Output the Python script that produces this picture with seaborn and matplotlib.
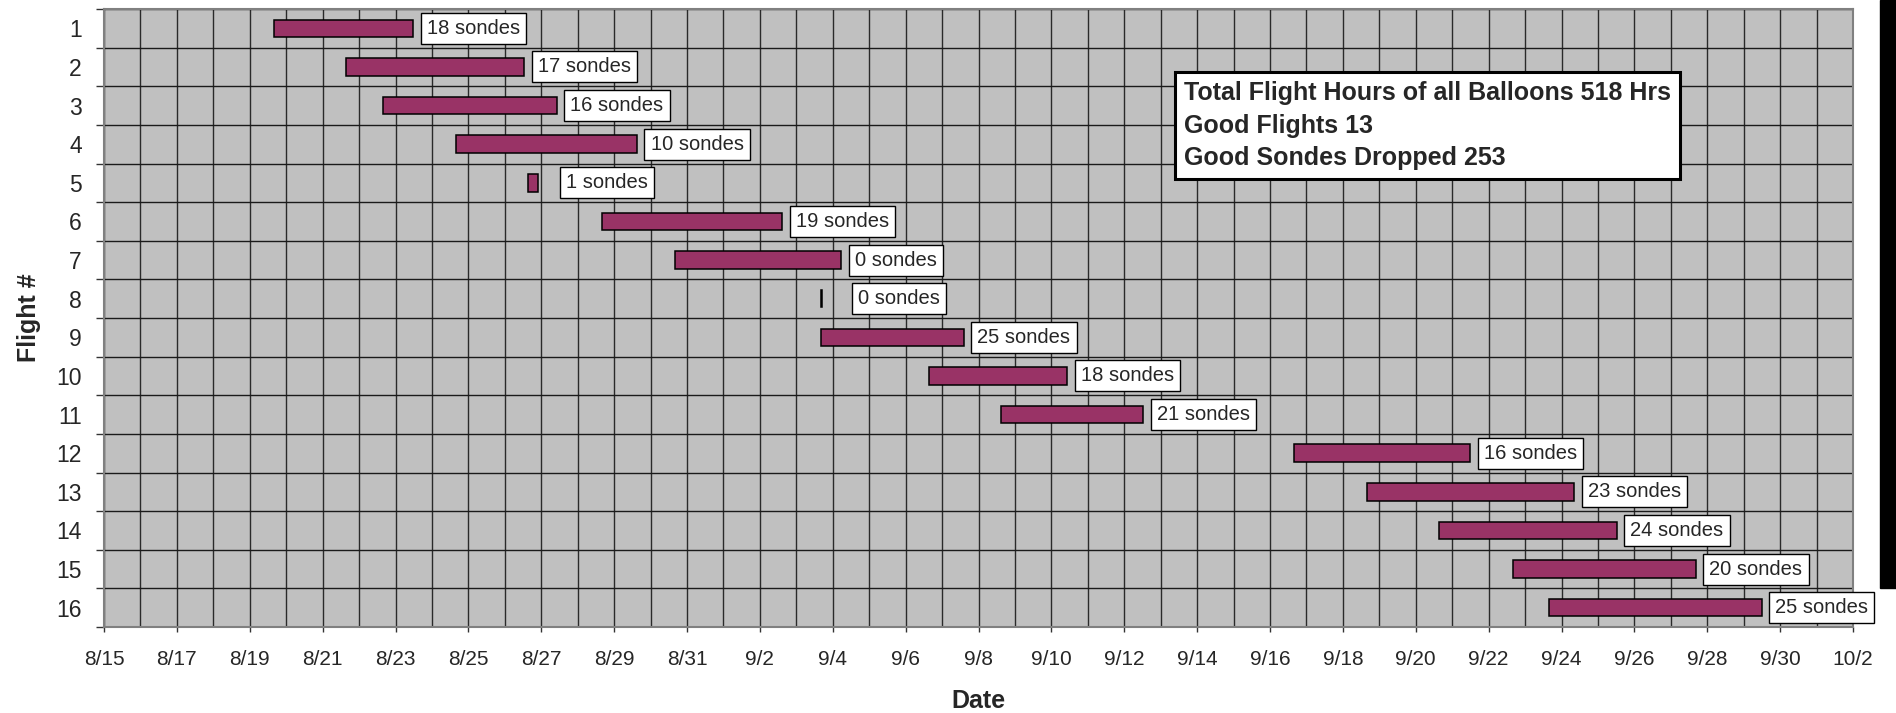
import numpy as np
import pandas as pd
import matplotlib
matplotlib.use("Agg")
import matplotlib.pyplot as plt
import matplotlib.dates as mdates
from matplotlib.ticker import FixedLocator, FixedFormatter, NullFormatter
from matplotlib.patches import Rectangle
import seaborn as sns

# Flight data (launch / end times)
flights = [str(i) for i in range(1, 17)]
launch = ["2001-08-19 15:50", "2001-08-21 15:35", "2001-08-22 16:05", "2001-08-24 15:50",
          "2001-08-26 15:20", "2001-08-28 16:20", "2001-08-30 15:50", "2001-09-03 16:05",
          "2001-09-03 16:35", "2001-09-06 15:20", "2001-09-08 14:50", "2001-09-16 15:50",
          "2001-09-18 15:35", "2001-09-20 15:20", "2001-09-22 16:05", "2001-09-23 15:50"]
landing = ["2001-08-23 11:45", "2001-08-26 12:45", "2001-08-27 10:05", "2001-08-29 14:50",
           "2001-08-26 21:35", "2001-09-02 14:25", "2001-09-04 05:15", "2001-09-03 17:00",
           "2001-09-07 14:10", "2001-09-10 10:35", "2001-09-12 12:15", "2001-09-21 11:45",
           "2001-09-24 08:25", "2001-09-25 12:15", "2001-09-27 16:20", "2001-09-29 11:45"]
sondes = [18, 17, 16, 10, 1, 19, 0, 0, 25, 18, 21, 16, 23, 24, 20, 25]

summary_lines = ["Total Flight Hours of all Balloons 518 Hrs",
                 "Good Flights 13",
                 "Good Sondes Dropped 253"]

date_first = "2001-08-15"
date_last = "2001-10-02"

sns.set_style("ticks")
plt.rcParams["font.family"] = ["Liberation Sans", "DejaVu Sans"]

df = pd.DataFrame({"flight": flights, "start": pd.to_datetime(launch),
                   "end": pd.to_datetime(landing), "sondes": sondes})
df["start_num"] = mdates.date2num(df["start"])
df["end_num"] = mdates.date2num(df["end"])
df["dur"] = df["end_num"] - df["start_num"]

fig, ax = plt.subplots(figsize=(18.96, 7.13), dpi=100)
fig.subplots_adjust(left=104 / 1896, right=1853 / 1896, top=1 - 9 / 713, bottom=1 - 627 / 713)
ax.set_facecolor("#C0C0C0")
ax.set_axisbelow(True)

# gantt bars: duration drawn from launch time
sns.barplot(data=df, x="dur", y="flight", order=flights, orient="y",
            left=df["start_num"].to_numpy(), color="#993366", saturation=1,
            edgecolor="black", linewidth=1.1, width=0.45, errorbar=None, ax=ax)

# x axis: days
x0 = mdates.date2num(pd.Timestamp(date_first))
x1 = mdates.date2num(pd.Timestamp(date_last))
major_days = pd.date_range(date_first, date_last, freq="2D")
all_days = pd.date_range(date_first, date_last, freq="D")
ax.set_xlim(x0, x1)
ax.xaxis.set_major_locator(FixedLocator(mdates.date2num(major_days)))
ax.xaxis.set_major_formatter(FixedFormatter([f"{d.month}/{d.day}" for d in major_days]))
ax.xaxis.set_minor_locator(FixedLocator(mdates.date2num(all_days)))
ax.grid(which="both", axis="x", color="#2a2a2a", linewidth=1)
ax.tick_params(axis="x", which="major", length=3.6, width=1, color="#333333",
               labelsize=15, pad=13)
ax.tick_params(axis="x", which="minor", length=0)

# y axis: flight rows
n = len(flights)
ax.set_ylim(n - 0.5, -0.5)
ax.yaxis.set_major_locator(FixedLocator(np.arange(-0.5, n, 1)))
ax.yaxis.set_major_formatter(NullFormatter())
ax.yaxis.set_minor_locator(FixedLocator(np.arange(n)))
ax.yaxis.set_minor_formatter(FixedFormatter(flights))
ax.grid(which="major", axis="y", color="#1a1a1a", linewidth=1)
ax.tick_params(axis="y", which="major", length=5.8, width=1, color="#333333")
ax.tick_params(axis="y", which="minor", length=0, labelsize=16.5, pad=16)

for s in ax.spines.values():
    s.set_color("#808080")
    s.set_linewidth(1.5)

# sonde labels
for i, row in df.iterrows():
    anchor = max(row.end_num, row.start_num + 0.65)
    ax.annotate(f"{row.sondes} sondes", xy=(anchor, i), xytext=(10, 0),
                textcoords="offset points", ha="left", va="center", fontsize=14.5,
                bbox=dict(boxstyle="square,pad=0.3", fc="white", ec="black", lw=1),
                annotation_clip=False)

ax.text(0.6175, 0.811, "\n".join(summary_lines), transform=ax.transAxes,
        fontsize=18, fontweight="bold", ha="left", va="center", linespacing=1.45,
        bbox=dict(boxstyle="square,pad=0.36", fc="white", ec="black", lw=2.2))

ax.set_xlabel("Date", fontsize=18, fontweight="bold")
ax.xaxis.set_label_coords(0.5, -0.1)
ax.set_ylabel("Flight #", fontsize=18, fontweight="bold")
ax.yaxis.set_label_coords(-0.036, 0.5)

# dark edge strip at the right of the original picture
fig.patches.append(Rectangle((1880 / 1896, 1 - 588 / 713), 16 / 1896, 588 / 713,
                             transform=fig.transFigure, color="black", zorder=0))

fig.savefig("out.png", dpi=100)
